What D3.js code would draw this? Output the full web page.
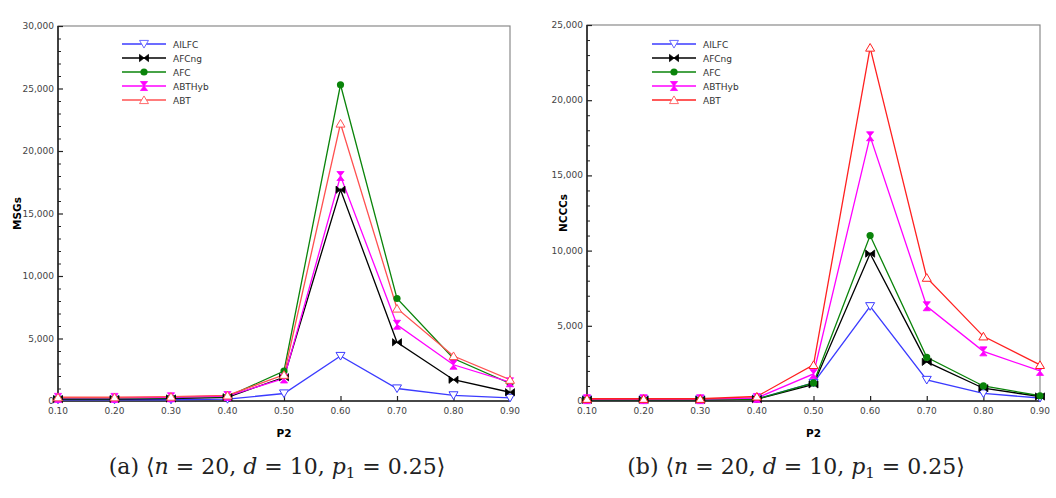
<!DOCTYPE html>
<html><head><meta charset="utf-8">
<script src="https://cdn.jsdelivr.net/npm/d3@7"></script>
<style>body{margin:0;background:#fff}svg{display:block}</style>
</head><body>
<svg id="c" width="1056" height="498"></svg>
<script>
const xVals = [0.10,0.20,0.30,0.40,0.50,0.60,0.70,0.80,0.90];
const xTickLabels = ["0.10","0.20","0.30","0.40","0.50","0.60","0.70","0.80","0.90"];
const seriesNames = ["AILFC","AFCng","AFC","ABTHyb","ABT"];
// Chart (a) MSGs
const msgAILFC  = [100,100,100,150,600,3600,1000,450,250];
const msgAFCng  = [150,150,200,300,1900,16900,4700,1700,700];
const msgAFC    = [200,200,250,350,2400,25300,8200,3400,1400];
const msgABTHyb = [250,250,300,400,1800,18000,6100,2900,1500];
const msgABT    = [300,300,350,450,2100,22200,7400,3600,1700];
// Chart (b) NCCCs
const ncAILFC  = [100,100,100,150,1200,6300,1400,500,200];
const ncAFCng  = [80,80,80,120,1100,9800,2600,850,300];
const ncAFC    = [90,90,90,130,1200,11000,2900,1000,350];
const ncABTHyb = [120,120,120,200,1800,17600,6300,3300,2000];
const ncABT    = [150,150,150,300,2400,23500,8200,4300,2400];
const yTicksA = [0,5000,10000,15000,20000,25000,30000];
const yTicksB = [0,5000,10000,15000,20000,25000];

const colors = {AILFC:"#3b3bff",AFCng:"#000000",AFC:"#0a840a",ABTHyb:"#ff00ff",ABT:"#ff5050"};
const colorsB = {AILFC:"#3b3bff",AFCng:"#000000",AFC:"#0a840a",ABTHyb:"#ff00ff",ABT:"#ff2020"};
const legendMarkerColor = {AILFC:"#6a6aff",AFCng:"#000",AFC:"#0a840a",ABTHyb:"#ff00ff",ABT:"#ff6a6a"};

const svg = d3.select("#c");
const fmt = d3.format(",");

function marker(g, name, x, y, col){
  const s = 4.5;
  if(name==="AILFC"){
    g.append("path").attr("d",`M${x-s},${y-s*0.8}L${x+s},${y-s*0.8}L${x},${y+s*0.9}Z`)
      .attr("fill","#fff").attr("stroke",col).attr("stroke-width",1);
  } else if(name==="AFCng"){
    g.append("path").attr("d",`M${x-s},${y-s*0.8}L${x},${y}L${x-s},${y+s*0.8}ZM${x+s},${y-s*0.8}L${x},${y}L${x+s},${y+s*0.8}Z`)
      .attr("fill",col).attr("stroke",col).attr("stroke-width",0.8);
  } else if(name==="AFC"){
    g.append("circle").attr("cx",x).attr("cy",y).attr("r",3.6).attr("fill",col);
  } else if(name==="ABTHyb"){
    g.append("path").attr("d",`M${x-s*0.8},${y-s}L${x+s*0.8},${y-s}L${x},${y}ZM${x-s*0.8},${y+s}L${x+s*0.8},${y+s}L${x},${y}Z`)
      .attr("fill",col).attr("stroke",col).attr("stroke-width",0.8);
  } else {
    g.append("path").attr("d",`M${x-s},${y+s*0.8}L${x+s},${y+s*0.8}L${x},${y-s*0.9}Z`)
      .attr("fill","#fff").attr("stroke",col).attr("stroke-width",1);
  }
}

function chart(opt){
  const {x0,x1,y0,y1,ymax,yticks,data,cols,title,lgx,capx,caption} = opt;
  const g = svg.append("g");
  const x = d3.scaleLinear().domain([0.1,0.9]).range([x0,x1]);
  const y = d3.scaleLinear().domain([0,ymax]).range([y0,y1]);
  // frame
  g.append("rect").attr("x",x0).attr("y",y1).attr("width",x1-x0).attr("height",y0-y1)
    .attr("fill","none").attr("stroke","#8a8a8a").attr("stroke-width",1.2);
  // y axis
  const ya = g.append("g").attr("transform",`translate(${x0},0)`)
    .call(d3.axisRight(y).tickValues(yticks).tickSize(5).tickFormat(""));
  ya.select(".domain").remove();
  ya.selectAll("line").attr("stroke","#222").attr("stroke-width",1.2);
  const minor = d3.range(0,ymax+1,1000).filter(v=>v%5000!==0);
  g.append("g").attr("transform",`translate(${x0},0)`)
    .call(d3.axisRight(y).tickValues(minor).tickSize(3).tickFormat(""))
    .call(a=>{a.select(".domain").remove();a.selectAll("line").attr("stroke","#222");});
  g.append("line").attr("x1",x0).attr("x2",x0).attr("y1",y0).attr("y2",y1).attr("stroke","#222").attr("stroke-width",1.6);
  g.selectAll(".yl").data(yticks).enter().append("text")
    .attr("x",x0-4).attr("y",d=>y(d)+3).attr("text-anchor","end")
    .attr("font-family","DejaVu Sans").attr("font-size",9).attr("fill","#444").text(d=>fmt(d));
  // x axis
  const xa = g.append("g").attr("transform",`translate(0,${y0})`)
    .call(d3.axisTop(x).tickValues(xVals).tickSize(5).tickFormat(""));
  xa.select(".domain").remove();
  xa.selectAll("line").attr("stroke","#222").attr("stroke-width",1.2);
  g.append("line").attr("x1",x0).attr("x2",x1).attr("y1",y0).attr("y2",y0).attr("stroke","#222").attr("stroke-width",1.6);
  g.selectAll(".xl").data(xVals).enter().append("text")
    .attr("x",d=>x(d)).attr("y",y0+13).attr("text-anchor","middle")
    .attr("font-family","DejaVu Sans").attr("font-size",9).attr("fill","#444").text((d,i)=>xTickLabels[i]);
  g.append("text").attr("x",(x0+x1)/2).attr("y",y0+36).attr("text-anchor","middle")
    .attr("font-family","DejaVu Sans").attr("font-weight","bold").attr("font-size",10.5).text("P2");
  g.append("text").attr("transform",`translate(${opt.ytx},${(y0+y1)/2}) rotate(-90)`).attr("text-anchor","middle")
    .attr("font-family","DejaVu Sans").attr("font-weight","bold").attr("font-size",10.5).text(title);
  // lines
  const line = d3.line().x((d,i)=>x(xVals[i])).y(d=>y(d));
  seriesNames.forEach((n,k)=>{
    g.append("path").datum(data[k]).attr("d",line).attr("fill","none")
      .attr("stroke",cols[n]).attr("stroke-width",1.3);
  });
  seriesNames.forEach((n,k)=>{
    data[k].forEach((v,i)=>marker(g,n,x(xVals[i]),y(v),cols[n]));
  });
  // legend
  seriesNames.forEach((n,k)=>{
    const ly = 44 + k*14;
    g.append("line").attr("x1",lgx).attr("x2",lgx+44).attr("y1",ly).attr("y2",ly)
      .attr("stroke",cols[n]).attr("stroke-width",1.5);
    marker(g,n,lgx+22,ly,legendMarkerColor[n]);
    g.append("text").attr("x",lgx+51).attr("y",ly+3.5).attr("font-family","DejaVu Sans")
      .attr("font-size",9).attr("fill","#333").text(n);
  });
  // caption
  const t = g.append("text").attr("x",capx).attr("y",474).attr("text-anchor","middle")
    .attr("font-family","DejaVu Serif, Liberation Serif").attr("font-size",22).attr("fill","#222");
  caption.forEach(p=>{
    const s = t.append("tspan").text(p.t);
    if(p.i) s.attr("font-style","italic");
    if(p.sub) s.attr("font-size",15).attr("dy",4);
    if(p.up) s.attr("dy",-4);
  });
}

const cap = lab => [{t:lab+" \u27E8"},{t:"n",i:1},{t:" = 20, "},{t:"d",i:1},{t:" = 10, "},{t:"p",i:1},{t:"1",sub:1},{t:" = 0.25\u27E9",up:1}];

chart({x0:58,x1:510,y0:401,y1:26,ymax:30000,yticks:yTicksA,
  data:[msgAILFC,msgAFCng,msgAFC,msgABTHyb,msgABT],cols:colors,title:"MSGs",ytx:21,lgx:122,capx:277,caption:cap("(a)")});
chart({x0:587,x1:1040,y0:401,y1:25,ymax:25000,yticks:yTicksB,
  data:[ncAILFC,ncAFCng,ncAFC,ncABTHyb,ncABT],cols:colorsB,title:"NCCCs",ytx:567,lgx:652,capx:796,caption:cap("(b)")});
</script>
</body></html>
